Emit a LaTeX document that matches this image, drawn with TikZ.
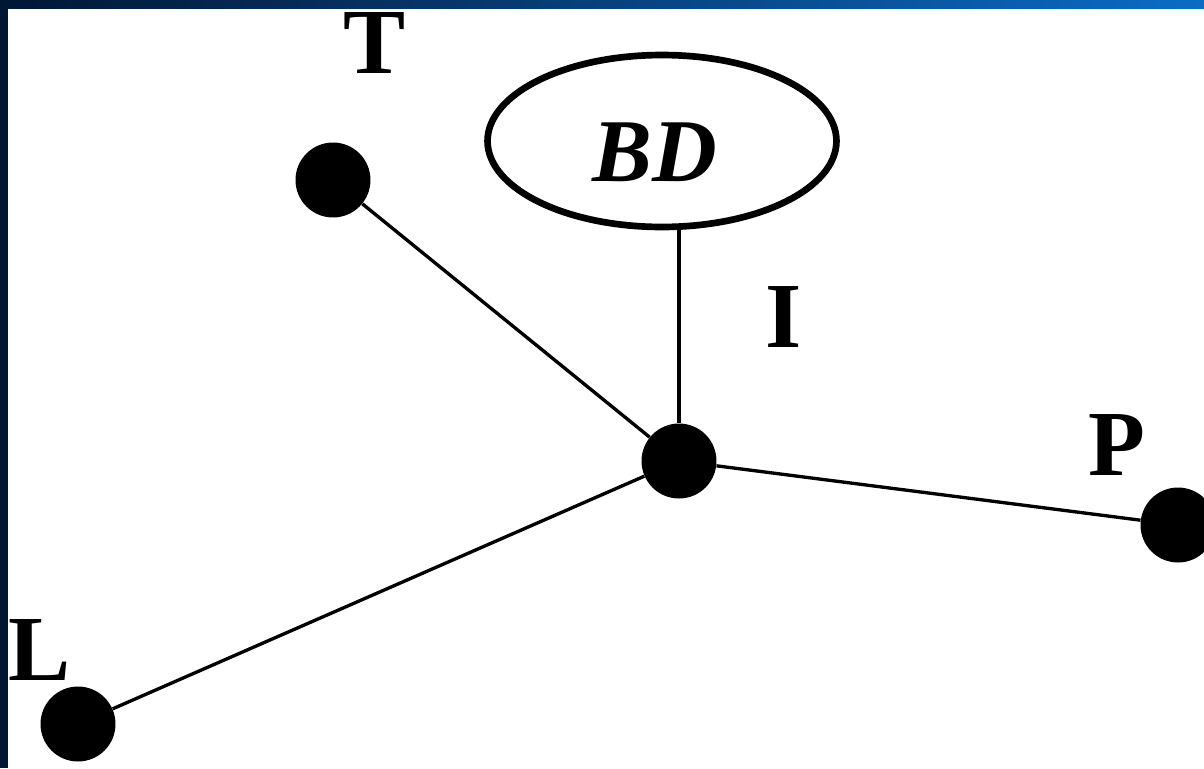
\documentclass[tikz,border=0pt]{standalone}
\usepackage{fontspec}
\setmainfont{Liberation Serif}
\usetikzlibrary{shapes.geometric}

\definecolor{navy}{HTML}{021634}
\definecolor{skyband}{HTML}{0B6CC4}

\tikzset{
	vertex/.style={shape=circle, fill=black, draw=none, minimum size=1.5cm, inner sep=0pt},
	letter/.style={anchor=base, inner sep=0pt, font=\fontsize{53}{60}\selectfont\bfseries},
	edge/.style={line width=1.9pt},
}

\begin{document}
\begin{tikzpicture}[x=0.02cm, y=-0.02cm]
	% Background: dark frame, blue band along the top
	\fill[navy] (0,0) rectangle (1204,768);
	\shade[left color=navy, middle color=navy!80!skyband, right color=skyband] (0,0) rectangle (1204,9);
	\fill[white] (8,9) rectangle (1204,768);
	\useasboundingbox (0,0) rectangle (1204,768);
	
	% Vertices and the BD ellipse
	\node[vertex] (hub) at (679,461){};
	\node[vertex] (t) at (333,180){};
	\node[vertex] (l) at (78,724){};
	\node[vertex] (p) at (1178,525){};
	\node[shape=ellipse, draw, line width=3.8pt, minimum width=6.98cm,
	minimum height=3.44cm, inner sep=0pt,
	font=\fontsize{51}{60}\selectfont\bfseries\itshape] (bd) at (662,141)
	{\hspace*{-0.28cm}\smash{\raisebox{-0.82cm}{BD}}};
	
	% Labels
	\node[letter] (tlab) at (375,73){T};
	\node[letter] (ilab) at (784,347){I};
	\node[letter] (plab) at (1117,475){P};
	\node[letter] (llab) at (40,680){L};
	
	% Edges into the hub
	\draw[edge] (t) -- (hub);
	\draw[edge] (l) -- (hub);
	\draw[edge] (p) -- (hub);
	\draw[edge] (bd.south -| hub) -- (hub);
\end{tikzpicture}
\end{document}
